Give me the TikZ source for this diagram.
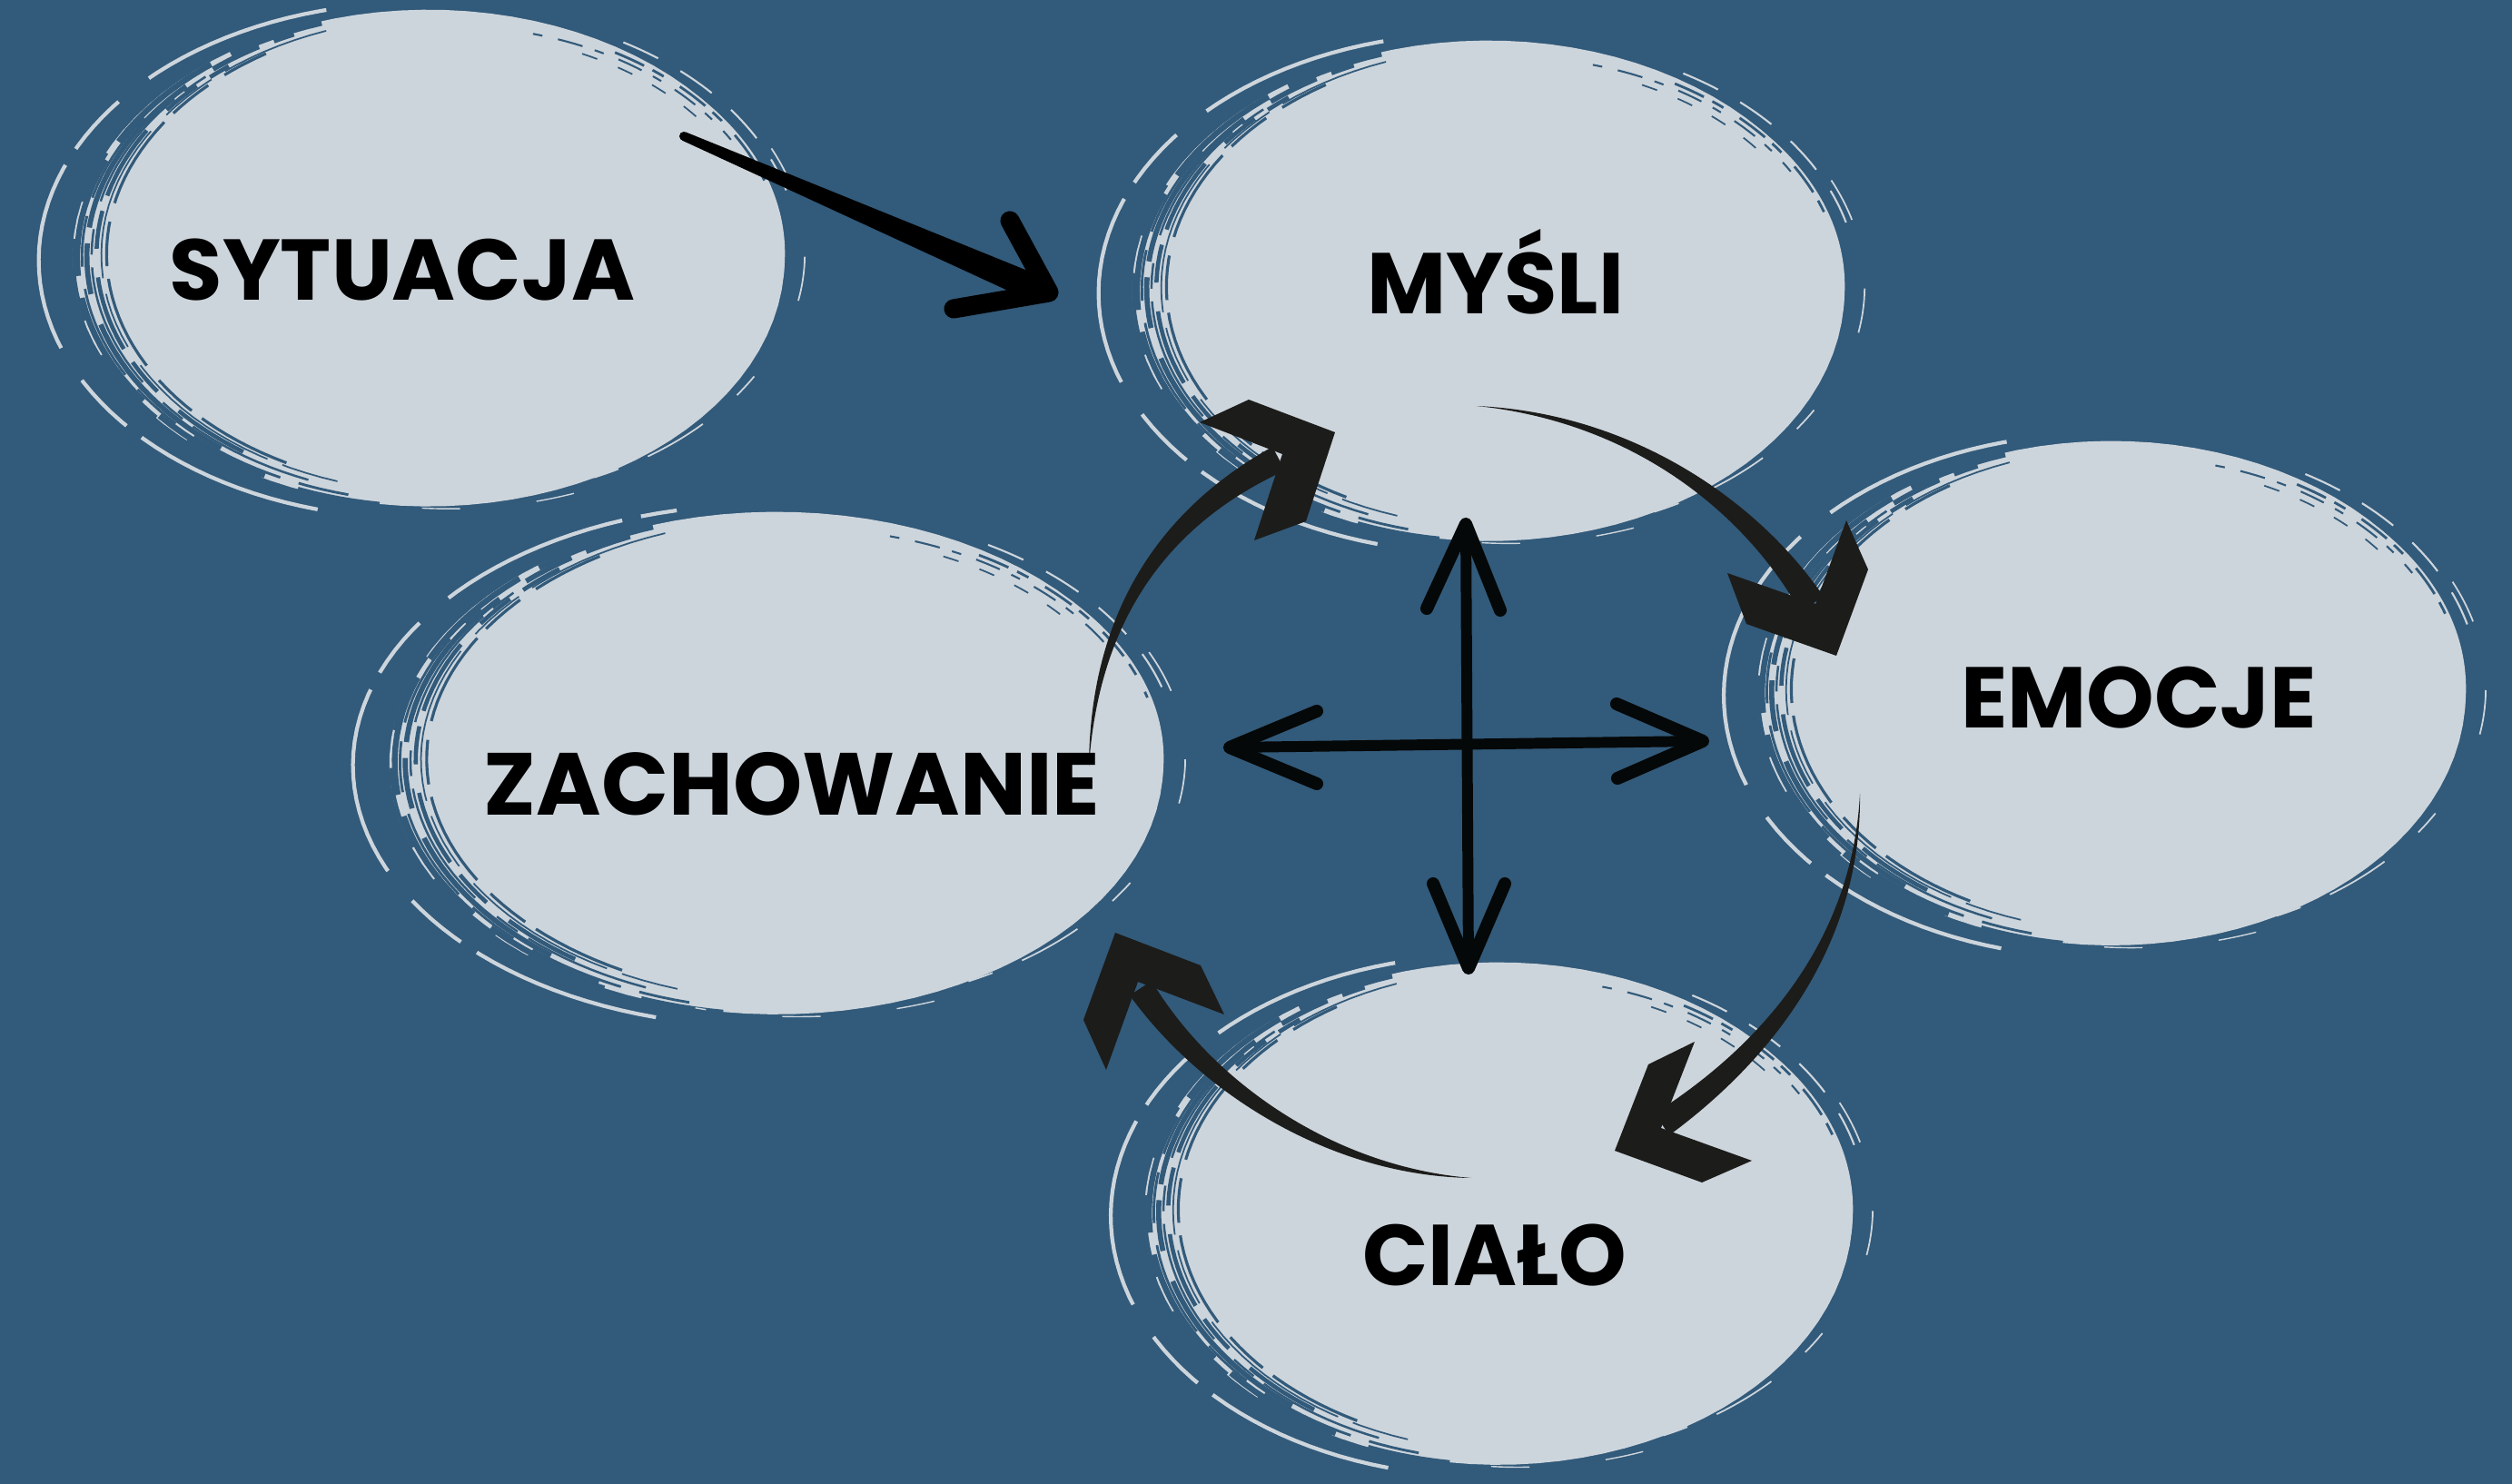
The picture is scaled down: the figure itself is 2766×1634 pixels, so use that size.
\documentclass[tikz,border=0pt]{standalone}
\usepackage{fontspec}
\setmainfont{Poppins}
\usetikzlibrary{shapes.geometric}
\definecolor{bgc}{HTML}{325A7A}
\definecolor{lightc}{HTML}{CDD5DC}
\definecolor{arrc}{HTML}{1C1C1A}
\definecolor{crossc}{HTML}{050808}
\tikzset{
  lab/.style={font=\fontsize{27}{30}\selectfont\bfseries, text=black, inner sep=0pt, anchor=base},
  sk/.style={dash pattern=#1},
  blobfill/.style={ellipse, fill=lightc, draw=none, inner sep=0pt},
  chev/.style={fill=arrc},
  shaft/.style={fill=arrc},
  crossline/.style={draw=crossc, line width=3.4pt, line cap=round, line join=round},
  crossbarb/.style={draw=crossc, line width=4pt, line cap=round, line join=round},
}
% #1 name, #2 cx, #3 cy, #4 rx, #5 ry
\newcommand\brushblob[5]{%
  \draw[lightc, line width=1.2pt, sk={on 60pt off 6pt on 20pt off 12pt}]
    plot[domain=105:258,samples=60] ({#2-0.1*#4+1.12*#4*cos(\x)},{#3+0.03*#5+1.1*#5*sin(\x)});
  \fill[lightc] plot[domain=0:360,samples=100] ({#2-0.06*#4+1.06*#4*cos(\x)},{#3+0.02*#5+1.06*#5*sin(\x)}) -- cycle;
  \foreach \su/\sa/\sb/\sw/\sd in {
     0.15/118/238/0.9/{on 30pt off 4pt on 14pt off 6pt},
     0.28/108/250/0.5/{on 18pt off 5pt on 50pt off 7pt},
     0.40/125/232/1.3/{on 24pt off 9pt on 12pt off 5pt},
     0.52/112/228/0.7/{on 40pt off 4pt on 8pt off 9pt},
     0.64/128/246/1.6/{on 55pt off 10pt on 16pt off 5pt},
     0.76/104/218/0.8/{on 16pt off 6pt on 30pt off 7pt},
     0.88/118/252/1.8/{on 38pt off 7pt},
     0.97/98/205/1.0/{on 26pt off 12pt}}{
    \draw[bgc, line width=\sw pt, sk/.expand once=\sd]
      plot[domain=\sa:\sb,samples=50] ({#2-0.06*\su*#4+(1+0.06*\su)*#4*cos(\x)},{#3+0.02*\su*#5+(1+0.06*\su)*#5*sin(\x)});
  }
  \foreach \su/\sa/\sb/\sw/\sd in {
     1.04/300/345/0.6/{on 12pt off 8pt},
     1.06/-25/25/0.5/{on 14pt off 22pt},
     1.05/30/75/0.5/{on 8pt off 14pt on 20pt off 10pt},
     1.09/70/105/0.4/{on 12pt off 24pt}}{
    \draw[lightc, line width=\sw pt, sk/.expand once=\sd]
      plot[domain=\sa:\sb,samples=40] ({#2+\su*#4*cos(\x)},{#3+\su*#5*sin(\x)});
  }
  \node[blobfill, minimum width=#4*0.02cm, minimum height=#5*0.02cm] (#1) at (#2,#3) {};
  \foreach \su/\sa/\sb/\sw/\sd in {
     0.97/285/330/0.6/{on 3pt off 5pt on 8pt off 4pt},
     0.94/295/322/0.5/{on 5pt off 7pt},
     0.99/300/345/0.8/{on 10pt off 3pt on 4pt off 6pt}}{
    \draw[bgc, line width=\sw pt, sk/.expand once=\sd]
      plot[domain=\sa:\sb,samples=30] ({#2+\su*#4*cos(\x)},{#3+\su*#5*sin(\x)});
  }
}
\begin{document}
\begin{tikzpicture}[x=0.01cm, y=-0.01cm]
\useasboundingbox (0,0) rectangle (2766,1634);
\fill[bgc] (0,0) rectangle (2766,1634);

% blobs
\brushblob{bS}{494}{279}{370}{258}
\brushblob{bM}{1661}{315}{370}{260}
\brushblob{bZ}{879}{835}{402}{261}
\brushblob{bE}{2347}{758}{368}{262}
\brushblob{bC}{1672}{1331}{368}{261}

% arrow SYTUACJA -> MYSLI
\coordinate (aS) at (753,150);
\coordinate (aM) at (1155,322);
\coordinate (aB1) at (1112,243);
\coordinate (aB2) at (1050,340);
\fill[black] (751,154.6) -- (755,145.4) -- (1154,307.2) -- (1142,334.8) -- cycle;
\fill[black] (aS) circle[radius=0.05cm];
\draw[black, line width=6pt, line cap=round, line join=round] (aB1) -- (aM) -- (aB2);

% arrow MYSLI -> EMOCJE
\coordinate (mS) at (1626,447);
\coordinate (eT) at (2022,722);
\fill[arrc] (mS) .. controls (1800,455) and (1938,554) .. (2008,657) -- (1982,673) .. controls (1922,566) and (1800,465) .. (mS) -- cycle;
\fill[arrc] (1902,631) -- (1923,687) -- (eT) -- (2057,627) -- (2033,573) -- (1999,665) -- cycle;

% arrow EMOCJE -> CIALO
\coordinate (eS) at (2048,874);
\coordinate (cT) at (1778,1267);
\fill[arrc] (eS) .. controls (2050,1030) and (1963,1158) .. (1838,1250) -- (1822,1226) .. controls (1947,1146) and (2040,1030) .. (eS) -- cycle;
\fill[arrc] (1866,1147) -- (1815,1172) -- (cT) -- (1874,1302) -- (1929,1278) -- (1829,1242) -- cycle;

% arrow CIALO -> ZACHOWANIE
\coordinate (cS) at (1620,1297);
\coordinate (zT) at (1228,1027);
\fill[arrc] (cS) .. controls (1470,1285) and (1335,1192) .. (1268,1080) -- (1244,1096) .. controls (1325,1208) and (1470,1295) .. (cS) -- cycle;
\fill[arrc] (zT) -- (1322,1063) -- (1348,1117) -- (1253,1081) -- (1218,1178) -- (1193,1123) -- cycle;

% arrow ZACHOWANIE -> MYSLI
\coordinate (zS) at (1199,844);
\coordinate (mT) at (1470,476);
\fill[arrc] (zS) .. controls (1210,680) and (1288,576) .. (1415,518) -- (1401,492) .. controls (1272,564) and (1200,680) .. (zS) -- cycle;
\fill[arrc] (1321,465) -- (1375,440) -- (mT) -- (1438,574) -- (1381,595) -- (1412,500) -- cycle;

% cross
\coordinate (xT) at (1614,577);
\coordinate (xB) at (1617,1066);
\coordinate (xL) at (1354,823);
\coordinate (xR) at (1875,816);
\draw[crossline] (xT) -- (xB);
\draw[crossline] (xL) -- (xR);
\draw[crossbarb] (1571,670) -- (xT) -- (1652,672);
\draw[crossbarb] (1578,973) -- (xB) -- (1657,973);
\draw[crossbarb] (1450,783) -- (xL) -- (1450,863);
\draw[crossbarb] (1780,775) -- (xR) -- (1781,857);

% labels
\node[lab] (tS) at (443,331) {SYTUACJA};
\node[lab] (tM) at (1647,346) {MYŚLI};
\node[lab, font=\fontsize{27.6}{30}\selectfont\bfseries] (tZ) at (872,897) {ZACHOWANIE};
\node[lab] (tE) at (2355,801) {EMOCJE};
\node[lab] (tC) at (1646,1415) {CIAŁO};
\end{tikzpicture}
\end{document}
